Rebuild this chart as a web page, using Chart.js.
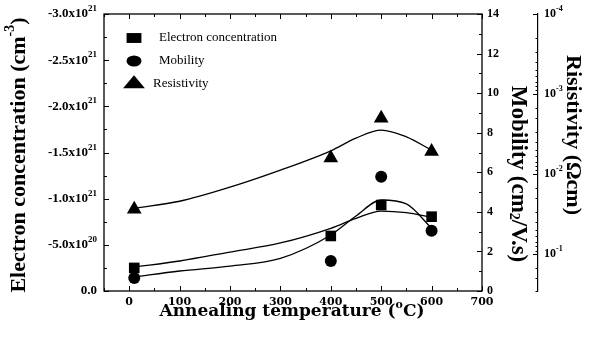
<!DOCTYPE html>
<html>
<head>
<meta charset="utf-8">
<script src="https://cdn.jsdelivr.net/npm/chart.js@4.4.1/dist/chart.umd.min.js"></script>
<style>
  html, body { margin: 0; padding: 0; background: #fff; }
  #wrap { width: 596px; height: 340px; }
</style>
</head>
<body>
<div id="wrap"><canvas id="chart" width="596" height="340"></canvas></div>
<script>
// measured points
const temps = [10, 400, 500, 600];
const concentration = [-2.5e20, -5.96e20, -9.31e20, -8.05e20];
const mobility = [0.66, 1.52, 5.78, 3.05];
const resistivity = [0.0274, 0.0063, 0.0020, 0.0052];

// fitted curves
const fitTemps = [10, 100, 200, 300, 400, 450, 500, 550, 600];
const concentrationFit = [-2.6e20, -3.25e20, -4.22e20, -5.2e20, -6.79e20, -7.87e20, -8.66e20, -8.48e20, -7.98e20];
const mobilityFit = [0.71, 1.01, 1.26, 1.65, 2.83, 3.79, 4.6, 4.4, 3.17];
const resistivityFit = [0.0266, 0.0218, 0.01454, 0.00891, 0.00511, 0.00355, 0.00282, 0.00342, 0.00501];

const seriesLabels = ["Electron concentration", "Mobility", "Resistivity"];
const seriesStyles = ["rect", "circle", "triangle"];

// axis titles, "^" marks a superscript part
const xTitle = "Annealing temperature (^o^C)";
const yTitle = "Electron concentration (cm^-3^)";
const y1Title = "Mobility (cm^2^/V.s)";
const y2Title = "Risistivity (\u03a9cm)";

const serif = '"Liberation Serif", "Times New Roman", serif';
const wideSerif = '"DejaVu Serif", serif';

const xy = (xs, ys) => xs.map((x, i) => ({ x: x, y: ys[i] }));

// draws text where every odd "^"-separated part is a superscript
function drawRich(ctx, text, x, y, align, size, family, rotation, supRatio, supShift) {
  const parts = text.split("^");
  const big = "bold " + size + "px " + family;
  const small = "bold " + Math.round(size * (supRatio || 0.62)) + "px " + family;
  const shift = supShift === undefined ? -0.4 : supShift;
  ctx.save();
  ctx.translate(x, y);
  if (rotation) ctx.rotate(rotation);
  ctx.textBaseline = "middle";
  ctx.textAlign = "left";
  ctx.fillStyle = "#000";
  let total = 0;
  const widths = parts.map((t, i) => {
    ctx.font = i % 2 ? small : big;
    const w = ctx.measureText(t).width;
    total += w;
    return w;
  });
  let cx = align === "right" ? -total : align === "center" ? -total / 2 : 0;
  parts.forEach((t, i) => {
    ctx.font = i % 2 ? small : big;
    ctx.fillText(t, cx, i % 2 ? size * shift : 0);
    cx += widths[i];
  });
  ctx.restore();
}

const frame = {
  id: "frame",
  afterDraw(chart) {
    const { ctx, chartArea: a, scales } = chart;
    ctx.save();
    ctx.strokeStyle = "#000";
    ctx.lineWidth = 1.3;
    ctx.strokeRect(a.left, a.top, a.right - a.left, a.bottom - a.top);
    ctx.lineWidth = 1;
    ctx.beginPath();
    scales.x.ticks.forEach((t) => {
      const px = Math.round(scales.x.getPixelForValue(t.value)) + 0.5;
      const len = t.label ? 5 : 3;
      ctx.moveTo(px, a.bottom); ctx.lineTo(px, a.bottom - len);
      ctx.moveTo(px, a.top); ctx.lineTo(px, a.top + len);
    });
    scales.y.ticks.forEach((t) => {
      const py = Math.round(scales.y.getPixelForValue(t.value)) + 0.5;
      ctx.moveTo(a.left, py); ctx.lineTo(a.left + (t.label ? 5 : 3), py);
    });
    scales.y1.ticks.forEach((t) => {
      const py = Math.round(scales.y1.getPixelForValue(t.value)) + 0.5;
      ctx.moveTo(a.right, py); ctx.lineTo(a.right - (t.label ? 5 : 3), py);
    });
    const r = scales.y2;
    r.ticks.forEach((t) => {
      const py = Math.round(r.getPixelForValue(t.value)) + 0.5;
      ctx.moveTo(r.left, py); ctx.lineTo(r.left - (t.label ? 5 : 2.5), py);
    });
    ctx.stroke();
    ctx.restore();

    // tick labels with exponents
    scales.y.ticks.forEach((t) => {
      if (t.label) drawRich(ctx, t.label, a.left - 7, scales.y.getPixelForValue(t.value), "right", 13, serif, 0, 0.66);
    });
    r.ticks.forEach((t) => {
      if (t.label) drawRich(ctx, t.label, r.left + 6, r.getPixelForValue(t.value), "left", 12, serif, 0, 0.66);
    });

    // axis titles
    drawRich(ctx, yTitle, 19, 155, "center", 22, serif, -Math.PI / 2);
    drawRich(ctx, y1Title, 518, 174, "center", 23, serif, Math.PI / 2, 0.62, 0.2);
    drawRich(ctx, y2Title, 573, 135, "center", 22, serif, Math.PI / 2);
    drawRich(ctx, xTitle, (a.left + a.right) / 2 - 1, 312, "center", 17, wideSerif, 0);
  }
};

const insideLegend = {
  id: "insideLegend",
  afterDraw(chart) {
    const { ctx, chartArea: a } = chart;
    const rows = [
      { radius: 7, sx: 1.5, y: 24 },
      { radius: 5.5, sx: 1.36, y: 47 },
      { radius: 8.7, sx: 1.45, y: 70 }
    ];
    ctx.save();
    ctx.fillStyle = "#000";
    ctx.strokeStyle = "#000";
    rows.forEach((row, i) => {
      ctx.save();
      ctx.translate(a.left + 30, a.top + row.y);
      ctx.scale(row.sx, 1);
      Chart.helpers.drawPoint(ctx, { pointStyle: seriesStyles[i], radius: row.radius, rotation: 0, borderWidth: 0 }, 0, 0);
      ctx.restore();
      ctx.font = "13px " + serif;
      ctx.textBaseline = "middle";
      ctx.textAlign = "left";
      ctx.fillText(seriesLabels[i], a.left + 55 - (i === 2 ? 6 : 0), a.top + row.y);
    });
    ctx.restore();
  }
};

const markerSet = (label, data, axis, style, radius) => ({
  label: label,
  data: data,
  yAxisID: axis,
  showLine: false,
  pointStyle: style,
  pointRadius: radius,
  pointBackgroundColor: "#000",
  pointBorderColor: "#000",
  pointBorderWidth: 0,
  order: 0
});

const curveSet = (data, axis) => ({
  data: data,
  yAxisID: axis,
  borderColor: "#000",
  borderWidth: 1.3,
  pointRadius: 0,
  cubicInterpolationMode: "monotone",
  fill: false,
  order: 1
});

const noGrid = { display: false, drawTicks: false };

new Chart(document.getElementById("chart"), {
  type: "line",
  data: {
    datasets: [
      markerSet(seriesLabels[0], xy(temps, concentration), "y", "rect", 7.5),
      markerSet(seriesLabels[1], xy(temps, mobility), "y1", "circle", 6),
      markerSet(seriesLabels[2], xy(temps, resistivity), "y2", "triangle", 8.5),
      curveSet(xy(fitTemps, concentrationFit), "y"),
      curveSet(xy(fitTemps, mobilityFit), "y1"),
      curveSet(xy(fitTemps, resistivityFit), "y2")
    ]
  },
  options: {
    responsive: false,
    animation: false,
    devicePixelRatio: 1,
    layout: { padding: { top: 14, left: 0, right: 0, bottom: 0 } },
    plugins: {
      legend: { display: false },
      tooltip: { enabled: false }
    },
    scales: {
      x: {
        type: "linear",
        min: -50,
        max: 700,
        grid: noGrid,
        border: { display: false },
        ticks: {
          stepSize: 50,
          autoSkip: false,
          maxRotation: 0,
          padding: 5,
          color: "#000",
          font: { family: wideSerif, size: 11, weight: "bold" },
          callback: (v) => (v >= 0 && v % 100 === 0 ? String(v) : "")
        },
        afterFit: (s) => { s.height = 49; }
      },
      y: {
        position: "left",
        min: -3e21,
        max: 0,
        reverse: true,
        grid: noGrid,
        border: { display: false },
        ticks: {
          display: false,
          stepSize: 2.5e20,
          autoSkip: false,
          callback: (v) => {
            const k = Math.round(-v / 2.5e20);
            if (k % 2) return "";
            if (k === 0) return "0.0";
            if (k === 2) return "-5.0x10^20";
            return "-" + (k / 4).toFixed(1) + "x10^21";
          }
        },
        afterFit: (s) => { s.width = 104; }
      },
      y1: {
        position: "right",
        weight: 0,
        min: 0,
        max: 14,
        grid: noGrid,
        border: { display: false },
        ticks: {
          stepSize: 1,
          autoSkip: false,
          padding: 5,
          color: "#000",
          font: { family: serif, size: 12, weight: "bold" },
          callback: (v) => (v % 2 === 0 ? String(v) : "")
        },
        afterFit: (s) => { s.width = 56; }
      },
      y2: {
        type: "logarithmic",
        position: "right",
        weight: 1,
        min: 1e-4,
        max: 0.288,
        reverse: true,
        grid: noGrid,
        border: { display: true, color: "#000", width: 1.2 },
        ticks: {
          display: false,
          autoSkip: false,
          callback: (v) => {
            const e = Math.log10(v);
            return Math.abs(e - Math.round(e)) < 1e-6 ? "10^" + Math.round(e) : "";
          }
        },
        afterFit: (s) => { s.width = 58; }
      }
    }
  },
  plugins: [frame, insideLegend]
});
</script>
</body>
</html>
